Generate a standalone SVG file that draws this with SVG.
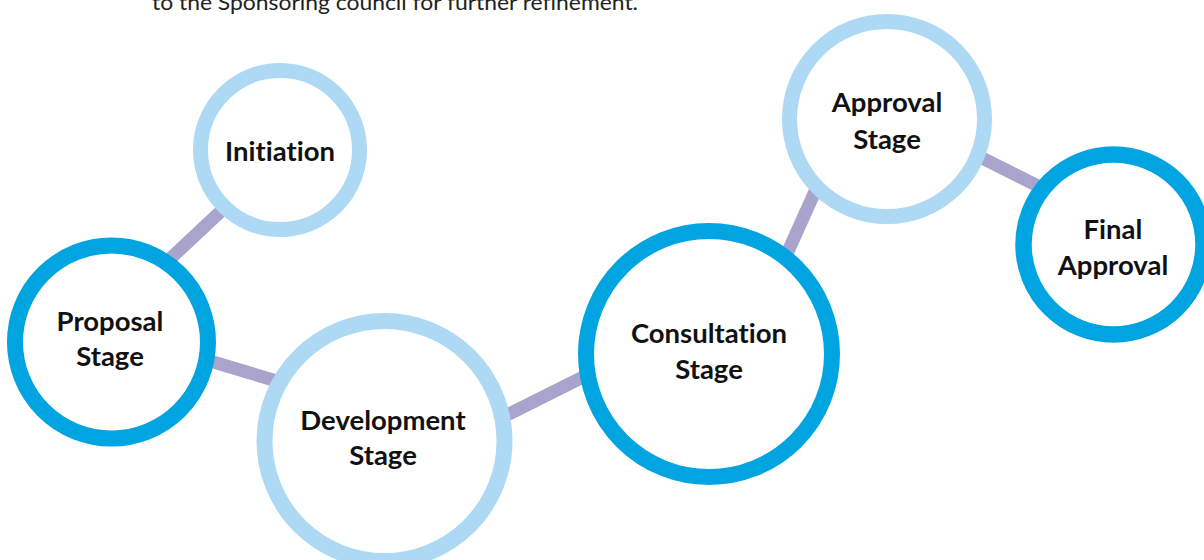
<svg xmlns="http://www.w3.org/2000/svg" width="1204" height="560" viewBox="0 0 1204 560">
  <style>
    .link { stroke: #A9A4CC; stroke-width: 13; fill: none; }
    .ring { fill: #FFFFFF; }
    .light { stroke: #ADD9F4; }
    .dark { stroke: #00A4E1; }
    .label { font-family: Lato, "Open Sans", "Liberation Sans", sans-serif; font-weight: 700; font-size: 27.5px; fill: #111111; text-anchor: middle; font-variant-ligatures: none; }
    .note { font-family: Lato, "Open Sans", "Liberation Sans", sans-serif; font-size: 22px; fill: #231F20; font-variant-ligatures: none; }
  </style>

  <rect width="1204" height="560" fill="#FFFFFF"/>

  <!-- trailing line of the paragraph above the chart -->
  <text class="note" x="152" y="10" textLength="486" lengthAdjust="spacingAndGlyphs">to the Sponsoring council for further refinement.</text>

  <!-- connectors run underneath the rings -->
  <g id="connectors">
    <line class="link" x1="235" y1="198" x2="155" y2="273"/>
    <line class="link" x1="180" y1="352" x2="300" y2="388"/>
    <line class="link" x1="490" y1="423.5" x2="600" y2="368.5"/>
    <line class="link" x1="781" y1="267" x2="822" y2="176"/>
    <line class="link" x1="960" y1="147" x2="1055" y2="194.5"/>
  </g>

  <g id="initiation">
    <circle class="ring light" cx="280" cy="150" r="79.5" stroke-width="15"/>
    <text class="label" x="280" y="161">Initiation</text>
  </g>

  <g id="proposal">
    <circle class="ring dark" cx="111.5" cy="342" r="96.5" stroke-width="16"/>
    <text class="label" x="110" y="331">Proposal</text>
    <text class="label" x="110" y="366">Stage</text>
  </g>

  <g id="development">
    <circle class="ring light" cx="384.5" cy="441" r="120" stroke-width="16"/>
    <text class="label" x="383" y="430">Development</text>
    <text class="label" x="383" y="465">Stage</text>
  </g>

  <g id="consultation">
    <circle class="ring dark" cx="709" cy="354" r="123" stroke-width="16"/>
    <text class="label" x="709" y="343">Consultation</text>
    <text class="label" x="709" y="379">Stage</text>
  </g>

  <g id="approval">
    <circle class="ring light" cx="887" cy="119" r="97.5" stroke-width="15"/>
    <text class="label" x="887" y="112">Approval</text>
    <text class="label" x="887" y="149">Stage</text>
  </g>

  <g id="final-approval">
    <circle class="ring dark" cx="1113.5" cy="244.5" r="90" stroke-width="16.5"/>
    <text class="label" x="1113" y="239">Final</text>
    <text class="label" x="1113" y="275">Approval</text>
  </g>
</svg>
